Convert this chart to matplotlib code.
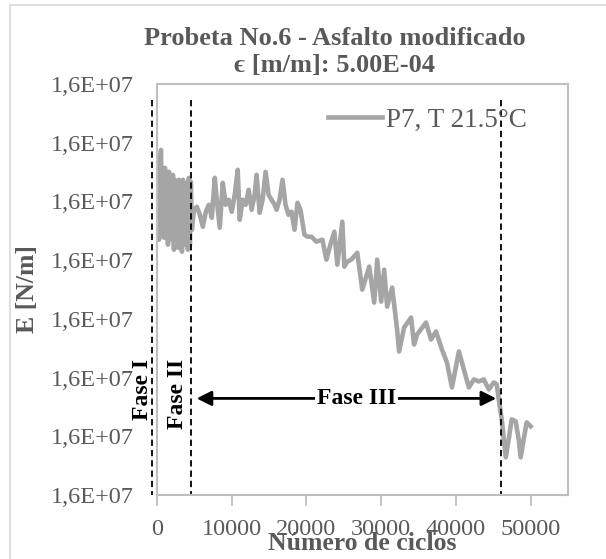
import numpy as np
import matplotlib
matplotlib.use("Agg")
import matplotlib.pyplot as plt
from matplotlib.ticker import FuncFormatter, FixedLocator
from matplotlib.lines import Line2D

plt.rcParams['font.family'] = ['Liberation Serif', 'DejaVu Serif']

# --- data ---
ciclos = [0, 133, 267, 400, 533, 667, 800, 933, 1067, 1200, 1333, 1467, 1600, 1733,
          1867, 2000, 2133, 2267, 2400, 2533, 2667, 2800, 2933, 3067, 3200, 3333,
          3467, 3600, 3733, 3867, 4000, 4133, 4267, 4400, 4533, 4667, 4933, 5333,
          5733, 6133, 6533, 6933, 7333, 7733, 8000, 8400, 8800, 9200, 9600, 10000,
          10400, 10800, 11067, 11467, 11867, 12267, 12667, 13067, 13333, 13733,
          14133, 14533, 14933, 15333, 15733, 16000, 16400, 16800, 17200, 17600,
          18000, 18400, 18800, 19200, 19733, 20133, 20667, 21333, 22133, 22667,
          23200, 23733, 24133, 24800, 25067, 25467, 26000, 26800, 27467, 27867,
          28400, 29067, 29467, 30000, 30400, 30800, 31467, 32133, 32400, 33067,
          34000, 34400, 34800, 36000, 36667, 37333, 38133, 38800, 39467, 40400,
          41067, 41733, 42400, 43067, 43733, 44400, 45067, 45467, 45733, 46133,
          46667, 47067, 47467, 48000, 48400, 48667, 49067, 49467, 50000]
E_nm = [16010280, 16014530, 16003480, 16016230, 16018780, 16004330, 16015040,
        16003820, 16015720, 16005180, 16014530, 16002630, 16015040, 16004330,
        16014020, 16003480, 16014530, 16001780, 16013680, 16003820, 16013340,
        16002120, 16013680, 16003480, 16013170, 16001440, 16013680, 16002630,
        16012830, 16003480, 16013170, 16001780, 16014020, 16002630, 16013340,
        16005180, 16008580, 16009090, 16007730, 16005690, 16008240, 16009430,
        16007220, 16014020, 16010280, 16005520, 16013170, 16009430, 16010280,
        16008240, 16011130, 16015380, 16006880, 16010280, 16009430, 16011980,
        16008580, 16011130, 16014530, 16008070, 16010280, 16015040, 16011130,
        16010280, 16009430, 16008580, 16010280, 16013680, 16009430, 16007730,
        16008240, 16005180, 16009770, 16008580, 16004330, 16003990, 16003990,
        16003140, 16003480, 16000080, 16002630, 16004840, 15999230, 16006540,
        15998890, 15999740, 16000080, 16001270, 15994980, 15996680, 15998890,
        15992770, 16000080, 15992940, 15998380, 15992090, 15995320, 15988180,
        15984440, 15988520, 15990220, 15985630, 15987330, 15989370, 15986480,
        15987840, 15984780, 15982570, 15978320, 15984440, 15981380, 15978320,
        15979680, 15979340, 15979680, 15977980, 15979170, 15978830, 15976280,
        15972880, 15966420, 15969480, 15972880, 15972540, 15969480, 15966420,
        15969480, 15972370, 15971690]

fases_x = [-700, 4500, 46000]          # vertical phase boundaries
fase_labels = ["Fase I", "Fase II", "Fase III"]
yticks = [15960000 + i * 10000 for i in range(8)]
xticks = [0, 10000, 20000, 30000, 40000, 50000]

txt = '#595959'

fig = plt.figure(figsize=(6.06, 5.59), dpi=100)
ax = fig.add_axes([157 / 606, 64 / 559, 411 / 606, 411 / 559])

ax.plot(ciclos, E_nm, color='#A5A5A5', lw=3.3, label='P7, T 21.5°C',
        solid_joinstyle='round')

for xv in fases_x:
    ax.plot([xv, xv], [16027300, 15960000], color='black', ls=(0, (3.5, 2.2)),
            lw=1.3, clip_on=False)

ax.set_xlim(0, 55000)
ax.set_ylim(15960000, 16030000)
ax.xaxis.set_major_locator(FixedLocator(xticks))
ax.yaxis.set_major_locator(FixedLocator(yticks))
ax.yaxis.set_major_formatter(FuncFormatter(lambda v, p: f"{v:.1E}".replace('.', ',')))

for s in ax.spines.values():
    s.set_color('#BFBFBF')
    s.set_linewidth(1.5)
ax.tick_params(axis='x', colors='#BFBFBF', length=8, width=1.3, labelsize=17.5,
               labelcolor=txt, pad=9)
ax.tick_params(axis='y', length=0, labelsize=17.5, labelcolor=txt, pad=17)

ax.set_xlabel('Número de ciclos', fontsize=18.5, fontweight='bold', color=txt)
ax.xaxis.set_label_coords(0.5, -0.117)
ax.xaxis.label.set_va('center')
ax.set_ylabel('E [N/m]', fontsize=18.5, fontweight='bold', color=txt, va='center')
ax.yaxis.set_label_coords(-0.314, 0.5)

fig.text(335 / 606, 1 - 52 / 559, 'Probeta No.6 - Asfalto modificado\nϵ [m/m]: 5.00E-04',
         ha='center', va='center', fontsize=19, fontweight='bold', color=txt,
         linespacing=1.2)

leg = ax.legend(loc='center right', bbox_to_anchor=(0.9, 0.912), frameon=False,
                fontsize=19.5, handlelength=2.0, handletextpad=0.15, borderpad=0,
                borderaxespad=0)
for t in leg.get_texts():
    t.set_color(txt)

# phase annotations
y_arrow = 15976450
ax.annotate('', xy=(5300, y_arrow), xytext=(45400, y_arrow),
            arrowprops=dict(arrowstyle='<|-|>', color='black', lw=2, mutation_scale=22,
                            shrinkA=0, shrinkB=0))
ax.text(26700, y_arrow, fase_labels[2], ha='center', va='center', fontsize=17,
        fontweight='bold', color='black',
        bbox=dict(facecolor='white', edgecolor='none', pad=1))
ax.text(-2000, 15977980, fase_labels[0], rotation=90, ha='center', va='center',
        fontsize=17, fontweight='bold', color='black', clip_on=False)
ax.text(2700, 15977130, fase_labels[1], rotation=90, ha='center', va='center',
        fontsize=17, fontweight='bold', color='black', clip_on=False)

# chart area border (left and top edges visible)
fig.add_artist(Line2D([10 / 606, 10 / 606], [0, 1 - 5 / 559], color='#D9D9D9', lw=1.2))
fig.add_artist(Line2D([10 / 606, 1], [1 - 5 / 559, 1 - 5 / 559], color='#D9D9D9', lw=1.2))

fig.savefig('out.png', dpi=100)
